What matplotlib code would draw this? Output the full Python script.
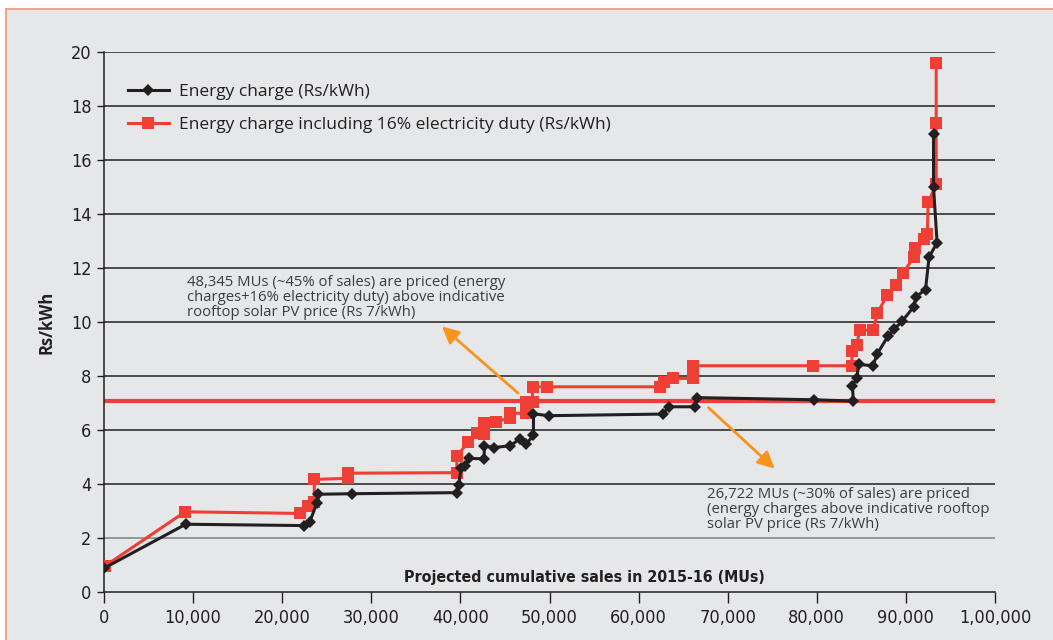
import matplotlib.pyplot as plt
from matplotlib.patches import Rectangle
from matplotlib import font_manager as fm

# Data (x in MUs, y in Rs/kWh)
energy_x = [0, 9170, 22450, 23100, 23870, 24050, 27800, 39600, 39800, 40070,
            40500, 41000, 42650, 42700, 43800, 45600, 46700, 47400, 48200, 48200,
            49900, 62700, 63400, 66300, 66500, 79700, 84100, 84000, 84500, 84700,
            86300, 86800, 88000, 88700, 89600, 90900, 91100, 92200, 92600, 93500,
            93100, 93100]
energy_y = [0.88, 2.51, 2.46, 2.60, 3.28, 3.62, 3.64, 3.68, 3.95, 4.58,
            4.67, 4.95, 4.93, 5.42, 5.35, 5.42, 5.68, 5.49, 5.80, 6.60,
            6.53, 6.59, 6.86, 6.86, 7.20, 7.12, 7.07, 7.64, 7.93, 8.43,
            8.38, 8.83, 9.48, 9.74, 10.04, 10.57, 10.93, 11.20, 12.40, 12.94,
            15.01, 16.95]

duty_x = [100, 9100, 22000, 22900, 23600, 23600, 27400, 27400, 39600, 39600,
          40900, 41900, 42600, 42700, 44000, 45600, 45600, 47400, 47400, 48100,
          48100, 49700, 62400, 62800, 63900, 66100, 66100, 79600, 83900, 84000,
          84500, 84800, 86300, 86800, 87900, 88900, 89700, 90900, 91000, 92000,
          92400, 92500, 93400, 93400, 93400]
duty_y = [0.96, 2.97, 2.91, 3.20, 3.32, 4.17, 4.21, 4.40, 4.42, 5.05,
          5.54, 5.90, 5.85, 6.27, 6.31, 6.45, 6.62, 6.62, 7.05, 7.05,
          7.60, 7.60, 7.60, 7.77, 7.91, 7.91, 8.38, 8.38, 8.38, 8.93,
          9.15, 9.70, 9.70, 10.32, 11.00, 11.37, 11.83, 12.40, 12.73, 13.07,
          13.26, 14.43, 15.10, 17.36, 19.58]

solar_price = 7.08
x_ticks = [0, 10000, 20000, 30000, 40000, 50000, 60000, 70000, 80000, 90000, 100000]
x_tick_labels = ['0', '10,000', '20,000', '30,000', '40,000', '50,000', '60,000',
                 '70,000', '80,000', '90,000', '1,00,000']
y_ticks = list(range(0, 21, 2))

note_above = ("48,345 MUs (~45% of sales) are priced (energy\n"
              "charges+16% electricity duty) above indicative\n"
              "rooftop solar PV price (Rs 7/kWh)")
note_below = ("26,722 MUs (~30% of sales) are priced\n"
              "(energy charges above indicative rooftop\n"
              "solar PV price (Rs 7/kWh)")

body = ['Open Sans', 'DejaVu Sans']
red = '#ef3e36'
black = '#231f20'
orange = '#f7941d'

cond = fm.FontProperties(family='DejaVu Sans', stretch='condensed', size=13)
cond_bold = fm.FontProperties(family='DejaVu Sans', stretch='condensed',
                              weight='bold', size=11.4)

fig = plt.figure(figsize=(10.53, 6.4), dpi=100)
fig.patch.set_facecolor('white')
fig.patches.append(Rectangle((6 / 1053, -0.01), 1.0, 1 - 9 / 640 + 0.01,
                             transform=fig.transFigure, facecolor='#e6e7e8',
                             edgecolor='#f0a48c', linewidth=1.5, zorder=-10))

ax = fig.add_axes([104 / 1053, 1 - 592 / 640, 891 / 1053, 540 / 640])
ax.set_facecolor('none')
ax.set_xlim(0, 100000)
ax.set_ylim(0, 20)

# horizontal gridlines
for yv in y_ticks[1:]:
    ax.axhline(yv, color='#808080' if yv == 2 else black, lw=1.1, zorder=1)

ax.axhline(solar_price, color=red, lw=3, zorder=2)

ax.plot(duty_x, duty_y, color=red, lw=2.2, marker='s', markersize=9,
        markeredgewidth=0, zorder=3,
        label='Energy charge including 16% electricity duty (Rs/kWh)')
ax.plot(energy_x, energy_y, color=black, lw=2.2, marker='D', markersize=6.5,
        markeredgewidth=0, zorder=4, label='Energy charge (Rs/kWh)')

handles, labels = ax.get_legend_handles_labels()
leg = ax.legend(handles[::-1], labels[::-1], loc='upper left',
                bbox_to_anchor=(0.009, 0.97), frameon=False, handlelength=2.4,
                handletextpad=0.55, labelspacing=0.95,
                prop={'family': body, 'size': 12.5})
for t in leg.get_texts():
    t.set_color(black)

for s in ['top', 'right']:
    ax.spines[s].set_visible(False)
for s in ['left', 'bottom']:
    ax.spines[s].set_color(black)
    ax.spines[s].set_linewidth(1.1)

ax.set_xticks(x_ticks)
ax.set_xticklabels(x_tick_labels)
ax.set_yticks(y_ticks)
ax.tick_params(axis='x', length=8, width=1, color=black, pad=4)
ax.tick_params(axis='y', length=5, width=1, color=black, pad=4)
for lbl in ax.get_xticklabels() + ax.get_yticklabels():
    lbl.set_fontproperties(cond)
    lbl.set_color(black)

ax.set_ylabel('Rs/kWh', family=body, fontsize=12, fontweight='bold',
              color=black, labelpad=11)
ax.text(0.539, 0.026, 'Projected cumulative sales in 2015-16 (MUs)',
        transform=ax.transAxes, ha='center', va='center',
        fontproperties=cond_bold, color=black)

ax.text(9300, 11.75, note_above, family=body, fontsize=10.7, color='#3c3c3c',
        va='top', linespacing=1.03)
ax.text(67700, 3.9, note_below, family=body, fontsize=10.7, color='#3c3c3c',
        va='top', linespacing=1.03)

ax.annotate('', xy=(37700, 9.9), xytext=(46700, 7.3),
            arrowprops=dict(arrowstyle='-|>', color=orange, lw=2,
                            mutation_scale=25))
ax.annotate('', xy=(75500, 4.5), xytext=(67600, 6.9),
            arrowprops=dict(arrowstyle='-|>', color=orange, lw=2,
                            mutation_scale=25))

fig.savefig('out.png', dpi=100)
